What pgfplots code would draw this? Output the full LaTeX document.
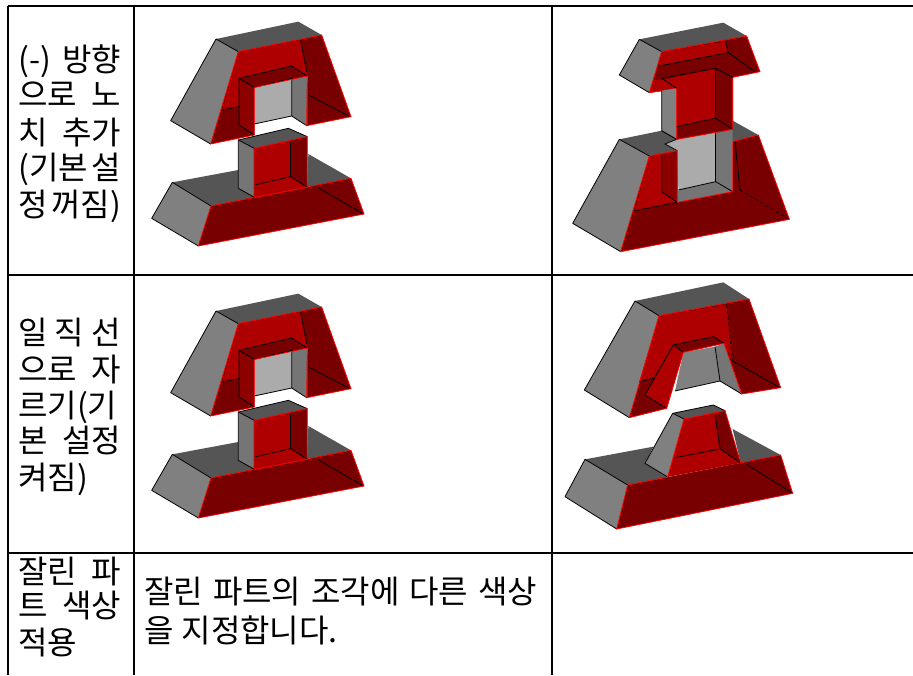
\documentclass[border=0pt]{standalone}
\usepackage{fontspec}
\setmainfont{Noto Sans CJK KR}
\usepackage{pgfplots}
\pgfplotsset{compat=1.18}
\definecolor{gD}{HTML}{555555}
\definecolor{gM}{HTML}{808080}
\definecolor{gW}{HTML}{757575}
\definecolor{gL}{HTML}{ABABAB}
\definecolor{rB}{HTML}{AE0000}
\definecolor{rM}{HTML}{8C0000}
\definecolor{rD}{HTML}{780000}
\newcommand\Fc[2]{\addplot[fill=#1,draw=none,mark=none] coordinates {#2};}
\newcommand\Lk[1]{\addplot[draw=black,line width=0.8pt,mark=none] coordinates {#1};}
\newcommand\Lr[1]{\addplot[draw=red,line width=0.8pt,mark=none] coordinates {#1};}
\pgfplotsset{shapeax/.style={hide axis,scale only axis,clip=false,y dir=reverse,anchor=south west,xmin=0,ymin=0}}
\newcommand\shapeA{%
 \Fc{gM}{(243,117)(310,155)(227,432)(107,362)(243,117)}
 \Fc{gD}{(243,117)(490,65)(560,105)(310,155)(243,117)}
 \Fc{rD}{(310,155)(560,105)(648,350)(515,377)(517,228)(358,262)(358,405)(227,432)(310,155)}
 \Fc{rB}{(310,155)(497,120)(517,228)(312,235)(312,320)(262,330)(310,155)}
 \Fc{gL}{(358,262)(470,235)(470,348)(358,372)(358,262)}
 \Fc{gW}{(470,235)(517,228)(517,377)(470,348)(470,235)}
 \Fc{rD}{(312,235)(470,198)(517,228)(358,262)(312,235)}
 \Fc{rM}{(312,235)(358,262)(358,405)(312,375)(312,235)}
 \Lk{(243,117)(310,155)}
 \Lk{(107,362)(227,432)}
 \Lk{(497,120)(515,215)}
 \Lk{(520,285)(645,350)}
 \Lk{(262,330)(312,320)}
 \Lk{(312,235)(470,198)(517,228)}
 \Lk{(312,235)(358,262)(470,235)(470,348)(358,372)}
 \Lk{(470,348)(515,377)}
 \Lk{(312,235)(312,375)(358,405)}
 \Lk{(107,362)(243,117)}
 \Lr{(310,155)(560,105)(648,350)(515,377)(517,228)(358,262)(358,405)(227,432)(310,155)}
 \Fc{gD}{(112,547)(310,510)(310,565)(358,592)(228,618)(112,547)}
 \Fc{gD}{(520,462)(648,535)(517,562)(520,462)}
 \Fc{gM}{(112,547)(228,618)(190,738)(50,655)(112,547)}
 \Fc{rD}{(228,618)(648,535)(687,642)(190,738)(228,618)}
 \Lk{(112,547)(228,618)}
 \Lk{(50,655)(190,738)}
 \Lk{(50,655)(112,547)}
 \Lk{(548,562)(685,642)}
 \Lr{(228,618)(648,535)(687,642)(190,738)(228,618)}
 \Fc{gW}{(310,420)(358,445)(358,592)(310,565)(310,420)}
 \Fc{gD}{(310,420)(460,385)(517,410)(358,445)(310,420)}
 \Fc{rB}{(358,445)(467,420)(467,530)(358,555)(358,445)}
 \Fc{rD}{(467,420)(517,410)(517,562)(467,530)(467,420)}
 \Fc{rB}{(358,555)(467,530)(517,562)(358,592)(358,555)}
 \Lk{(310,420)(358,445)(358,592)(310,565)(310,420)}
 \Lk{(358,555)(467,530)(517,562)}
 \Lk{(467,420)(467,530)}
 \Lk{(310,420)(460,385)(517,410)}
 \Lr{(358,445)(517,410)(517,562)(358,592)(358,445)}
}
\begin{document}
\begin{tikzpicture}
\useasboundingbox (0pt,0pt) rectangle (913pt,675pt);
\begin{axis}[hide axis,scale only axis,clip=true,at={(0pt,0pt)},anchor=south west,width=913pt,height=675pt,xmin=0,xmax=913,ymin=0,ymax=675,y dir=reverse]
\addplot[black,line width=2pt,mark=none] coordinates {(8,6)(913,6)};
\addplot[black,line width=2pt,mark=none] coordinates {(8,275)(913,275)};
\addplot[black,line width=2pt,mark=none] coordinates {(8,553)(913,553)};
\addplot[black,line width=2pt,mark=none] coordinates {(8,6)(8,675)};
\addplot[black,line width=2pt,mark=none] coordinates {(134,6)(134,675)};
\addplot[black,line width=2pt,mark=none] coordinates {(552,6)(552,675)};
\end{axis}
\newcommand\Tx[3]{\node[anchor=base west,inner sep=0pt,font=\fontsize{32}{36}\selectfont] at (#1pt,675pt-#2pt) {#3};}
\newcommand\Jx[2]{\node[anchor=base west,inner sep=0pt,font=\fontsize{32}{36}\selectfont] at (18pt,675pt-#1pt) {\hbox to 103pt{#2}};}
\Jx{72}{(-)\hfill 방향}
\Jx{107}{으로\hfill 노}
\Jx{145}{치\hfill 추가}
\Jx{180}{(기본\hfill 설}
\Jx{217}{정\hfill 꺼짐)}
\Jx{345}{일\hfill 직\hfill 선}
\Jx{382}{으로\hfill 자}
\Jx{418}{르기(기}
\Jx{453}{본\hfill 설정}
\Tx{18}{490}{켜짐)}
\Jx{583}{잘린\hfill 파}
\Jx{617}{트\hfill 색상}
\Tx{18}{654}{적용}
\node[anchor=base west,inner sep=0pt,font=\fontsize{32}{36}\selectfont] at (144pt,675pt-603pt) {\hbox to 393pt{잘린\hfill 파트의\hfill 조각에\hfill 다른\hfill 색상}};
\node[anchor=base west,inner sep=0pt,font=\fontsize{32}{36}\selectfont] at (144pt,675pt-642pt) {을\hspace{8pt}지정합니다.};
\begin{axis}[shapeax,at={(135pt,405pt)},width=250pt,height=270pt,xmax=750,ymax=810]
\shapeA
\end{axis}
\begin{axis}[shapeax,at={(135pt,133pt)},width=250pt,height=270pt,xmax=750,ymax=810]
\shapeA
\end{axis}
\begin{axis}[shapeax,at={(550pt,405pt)},width=270pt,height=270pt,xmax=810,ymax=810]
 \Fc{gD}{(268,118)(520,68)(590,108)(335,155)(268,118)}
 \Fc{gM}{(268,118)(335,155)(298,278)(208,225)(268,118)}
 \Fc{rD}{(335,155)(590,108)(630,215)(548,232)(380,268)(298,278)(335,155)}
 \Fc{rB}{(335,155)(527,125)(535,158)(327,198)(335,155)}
 \Fc{rB}{(310,240)(345,238)(380,265)(298,278)(310,240)}
 \Lk{(268,118)(335,155)}
 \Lk{(208,225)(298,278)}
 \Lk{(208,225)(268,118)}
 \Lk{(327,198)(535,158)(615,215)}
 \Lk{(527,125)(535,158)}
 \Lr{(335,155)(590,108)(630,215)(548,232)(548,388)(380,418)(380,265)(298,278)(335,155)}
 \Fc{gD}{(208,418)(335,392)(380,418)(345,432)(380,452)(298,468)(208,418)}
 \Fc{gD}{(497,400)(548,362)(625,405)(548,425)(497,400)}
 \Fc{gM}{(208,418)(298,468)(212,755)(68,670)(208,418)}
 \Fc{rD}{(298,468)(382,452)(382,607)(548,575)(548,425)(625,405)(718,658)(212,755)(298,468)}
 \Fc{rB}{(298,468)(382,452)(382,607)(255,632)(298,468)}
 \Fc{rM}{(335,465)(382,452)(382,607)(335,575)(335,465)}
 \Fc{gL}{(345,432)(380,418)(500,395)(497,545)(385,570)(382,452)(345,432)}
 \Fc{gW}{(497,400)(548,388)(548,575)(497,545)(497,400)}
 \Fc{gW}{(385,570)(497,545)(548,575)(382,607)(385,570)}
 \Lk{(208,418)(298,468)}
 \Lk{(68,670)(212,755)}
 \Lk{(68,670)(208,418)}
 \Lk{(335,392)(380,418)(345,432)(382,452)}
 \Lk{(335,465)(335,575)(382,607)}
 \Lk{(255,632)(382,607)}
 \Lk{(385,570)(497,545)(548,575)}
 \Lk{(497,400)(497,545)}
 \Lk{(555,425)(570,570)}
 \addplot[black,line width=0.8pt,dashed,mark=none] coordinates {(570,570)(718,658)};
 \Lr{(298,468)(382,452)(382,607)(548,575)(548,425)(625,405)(718,658)(212,755)(298,468)}
 \Fc{gM}{(335,272)(380,265)(380,418)(335,392)(335,272)}
 \Fc{rB}{(345,238)(497,205)(497,355)(380,380)(380,265)(345,238)}
 \Fc{rD}{(497,205)(548,232)(548,388)(497,355)(497,205)}
 \Fc{rD}{(380,380)(497,355)(548,388)(380,418)(380,380)}
 \Lk{(335,272)(335,392)(380,418)}
 \Lk{(335,235)(497,205)(548,232)}
 \Lk{(335,235)(380,265)}
 \Lk{(497,205)(497,355)}
 \Lk{(380,380)(497,355)(548,388)}
 \Lr{(380,265)(380,418)(548,388)(548,232)}
\end{axis}
\begin{axis}[shapeax,at={(550pt,140pt)},width=270pt,height=260pt,xmax=810,ymax=780]
 \Fc{gM}{(255,78)(327,122)(238,428)(103,345)(255,78)}
 \Fc{gD}{(255,78)(520,22)(597,72)(327,122)(255,78)}
 \Fc{rD}{(327,122)(597,72)(692,338)(575,357)(522,205)(400,232)(350,400)(238,428)(327,122)}
 \Fc{rB}{(327,122)(530,90)(548,258)(522,205)(490,185)(370,210)(310,310)(268,320)(327,122)}
 \Fc{rB}{(370,210)(400,232)(350,400)(285,360)(370,210)}
 \Fc{rD}{(370,210)(490,185)(522,205)(400,232)(370,210)}
 \Fc{gM}{(400,232)(495,215)(510,318)(375,348)(400,232)}
 \Fc{gW}{(495,215)(522,205)(575,357)(510,318)(495,215)}
 \Lk{(255,78)(327,122)}
 \Lk{(103,345)(238,428)}
 \Lk{(103,345)(255,78)}
 \addplot[black,line width=0.8pt,dashed,mark=none] coordinates {(530,90)(548,258)};
 \Lk{(548,258)(690,338)}
 \Lk{(268,320)(310,310)}
 \Lk{(370,210)(285,360)(350,400)}
 \Lk{(370,210)(490,185)(522,205)}
 \Lk{(370,210)(400,232)}
 \Lk{(495,215)(510,318)(575,357)}
 \Lk{(375,348)(510,318)}
 \Lr{(327,122)(597,72)(692,338)(575,357)(522,205)(400,232)(350,400)(238,428)(327,122)}
 \Fc{gD}{(105,553)(310,515)(285,565)(353,606)(233,630)(105,553)}
 \Fc{gD}{(548,462)(692,540)(572,564)(548,462)}
 \Fc{gM}{(105,553)(233,630)(200,762)(45,665)(105,553)}
 \Fc{rD}{(233,630)(692,540)(728,655)(200,762)(233,630)}
 \Fc{gD}{(368,415)(490,390)(525,407)(402,432)(368,415)}
 \Fc{gM}{(368,415)(402,432)(353,606)(285,565)(368,415)}
 \Fc{rB}{(402,432)(525,407)(572,564)(353,606)(402,432)}
 \Fc{rD}{(495,420)(525,407)(572,564)(510,522)(495,420)}
 \Lk{(105,553)(233,630)}
 \Lk{(45,665)(200,762)}
 \Lk{(45,665)(105,553)}
 \Lk{(580,562)(728,655)}
 \Lk{(368,415)(285,565)(353,606)}
 \Lk{(368,415)(402,432)}
 \Lk{(368,415)(490,390)(525,407)}
 \Lk{(495,420)(510,522)(572,564)}
 \Lk{(375,548)(510,522)}
 \Lr{(233,630)(353,606)(402,432)(525,407)(572,564)(692,540)(728,655)(200,762)(233,630)}
\end{axis}
\end{tikzpicture}
\end{document}
